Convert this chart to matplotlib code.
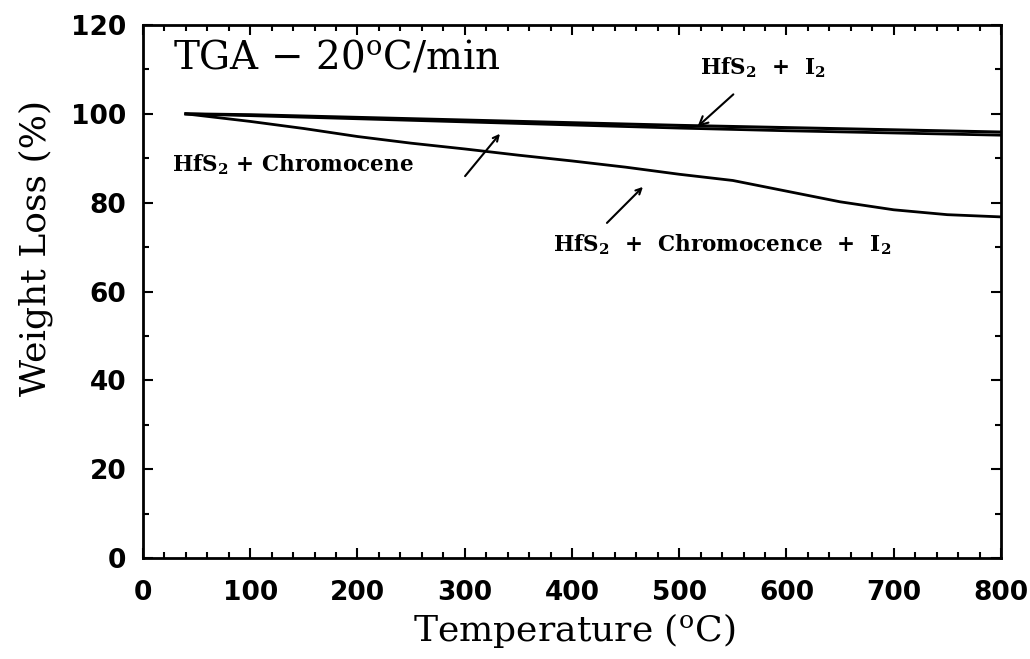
import matplotlib
matplotlib.use("Agg")
import matplotlib.pyplot as plt
from matplotlib.ticker import MultipleLocator

plt.rcParams['mathtext.fontset'] = 'dejavuserif'

# TGA runs, 20 C/min
temp_i2 = [40, 100, 200, 300, 400, 500, 600, 700, 800]
wt_i2 = [100, 99.8, 99.2, 98.6, 98.0, 97.4, 96.9, 96.4, 95.9]

temp_cr = [40, 100, 200, 300, 400, 500, 600, 700, 800]
wt_cr = [100, 99.6, 98.9, 98.2, 97.5, 96.8, 96.2, 95.7, 95.2]

temp_cr_i2 = [40, 100, 150, 200, 250, 300, 350, 400, 450, 500, 550, 600, 650, 700, 750, 800]
wt_cr_i2 = [100, 98.3, 96.7, 94.9, 93.4, 92.1, 90.7, 89.4, 88.0, 86.4, 85.0, 82.6, 80.2, 78.4, 77.3, 76.8]

xticks = [0, 100, 200, 300, 400, 500, 600, 700, 800]
yticks = [0, 20, 40, 60, 80, 100, 120]

fig = plt.figure(figsize=(10.3, 6.59), dpi=100)
ax = fig.add_axes([0.1388, 0.1533, 0.833, 0.8087])

ax.plot(temp_i2, wt_i2, color='black', lw=2.2)
ax.plot(temp_cr, wt_cr, color='black', lw=2.0)
ax.plot(temp_cr_i2, wt_cr_i2, color='black', lw=2.0)

ax.set_xlim(0, 800)
ax.set_ylim(0, 120)
ax.set_xticks(xticks)
ax.set_yticks(yticks)
ax.xaxis.set_minor_locator(MultipleLocator(20))
ax.yaxis.set_minor_locator(MultipleLocator(10))
ax.tick_params(which='both', direction='in', top=True, right=True, width=1.5)
ax.tick_params(which='major', length=7)
ax.tick_params(which='minor', length=4)
ax.tick_params(axis='x', which='major', pad=16)
ax.tick_params(axis='y', which='major', pad=12)
for lab in ax.get_xticklabels() + ax.get_yticklabels():
    lab.set_fontsize(19)
    lab.set_fontweight('bold')
for s in ax.spines.values():
    s.set_linewidth(2)

ax.set_xlabel(r'Temperature ($\mathregular{^o}$C)', fontsize=26, family='DejaVu Serif')
ax.set_ylabel('Weight Loss (%)', fontsize=26, family='DejaVu Serif')
ax.xaxis.set_label_coords(0.503, -0.10)
ax.yaxis.set_label_coords(-0.105, 0.582)

ax.text(28, 112.6, r'TGA $-$ 20$^{\rm o}$C/min', fontsize=28, family='DejaVu Serif',
        va='center', ha='left')

arrow = dict(arrowstyle='->', color='black', lw=1.5)
ax.annotate(r'HfS$_{\mathbf{2}}$  +  I$_{\mathbf{2}}$', xy=(517, 97.1), xytext=(519, 110.3),
            fontsize=15.5, fontweight='bold', family='DejaVu Serif', va='center', ha='left',
            arrowprops=dict(arrow, shrinkA=12, shrinkB=0))
ax.annotate(r'HfS$_{\mathbf{2}}$ + Chromocene', xy=(334.5, 96.0), xytext=(27, 88.5),
            fontsize=15.5, fontweight='bold', family='DejaVu Serif', va='center', ha='left')
ax.annotate('', xy=(334.5, 96.0), xytext=(298.7, 85.5), arrowprops=arrow)
ax.annotate(r'HfS$_{\mathbf{2}}$  +  Chromocence  +  I$_{\mathbf{2}}$', xy=(468, 84.0), xytext=(382, 70.5),
            fontsize=15.5, fontweight='bold', family='DejaVu Serif', va='center', ha='left')
ax.annotate('', xy=(468, 84.0), xytext=(430.8, 75.0), arrowprops=arrow)

fig.savefig('out.png', dpi=100)
